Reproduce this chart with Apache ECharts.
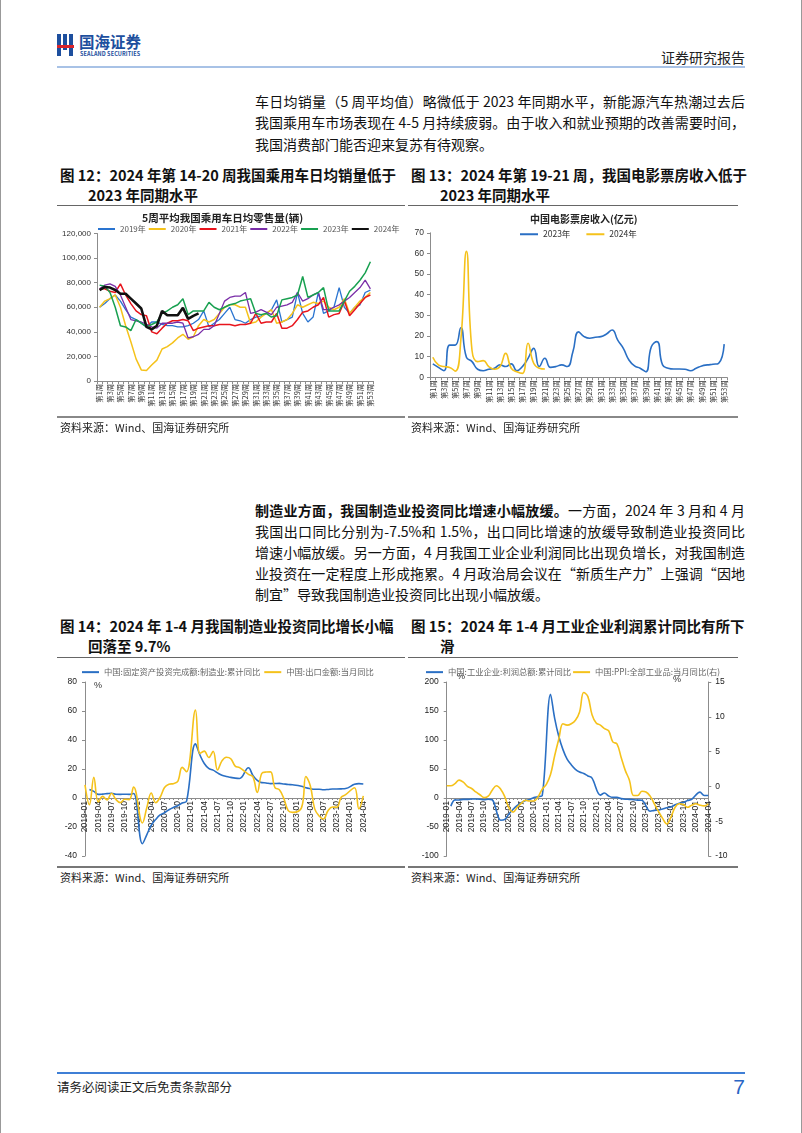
<!DOCTYPE html>
<html><head><meta charset="utf-8">
<script src="https://cdn.jsdelivr.net/npm/echarts@6/dist/echarts.min.js"></script>
<style>
html,body{margin:0;padding:0}
body{width:802px;height:1133px;position:relative;background:#fff;font-family:"Noto Sans CJK SC","Liberation Sans",sans-serif;overflow:hidden;color:#111}
.a{position:absolute;white-space:nowrap}
.p{position:absolute;left:255px;width:490px;font-size:14px;line-height:20px;white-space:nowrap}
.j{text-align:justify;text-align-last:justify;white-space:normal}
.t{position:absolute;font-size:14.5px;font-weight:bold;line-height:20px;white-space:nowrap;font-family:"Noto Sans CJK SC","Liberation Sans",sans-serif}
.src{position:absolute;font-size:11px;line-height:14px;color:#222}
.hl{position:absolute;height:0}
.ch{position:absolute}
</style></head>
<body>
<div class="a" style="left:0;top:0;width:1px;height:1133px;background:#999"></div>
<div class="a" style="left:801px;top:0;width:1px;height:1133px;background:#999"></div>

<!-- logo -->
<div class="a" style="left:57px;top:34px;width:4px;height:22px;background:#1d4f9e"></div>
<div class="a" style="left:63px;top:34px;width:4px;height:16px;background:#1d4f9e"></div>
<div class="a" style="left:69px;top:34px;width:4px;height:22px;background:#1d4f9e"></div>
<div class="a" style="left:57px;top:45px;width:17px;height:3px;background:#d8242b"></div>
<div class="a" style="left:79px;top:32px;font-size:15.5px;font-weight:bold;color:#1d4f9e;line-height:18px">国海证券</div>
<div class="a" style="left:80px;top:51px;font-size:5.5px;font-weight:bold;color:#1d4f9e;line-height:7px;letter-spacing:0.1px">SEALAND SECURITIES</div>
<div class="a" style="left:650px;top:48px;width:95px;text-align:right;font-size:14px;line-height:18px;color:#222">证券研究报告</div>
<div class="hl" style="left:57px;top:66px;width:688px;border-top:2px solid #a8c2e6"></div>

<!-- paragraph 1 -->
<div class="p j" style="top:91px">车日均销量（5 周平均值）略微低于 2023 年同期水平，新能源汽车热潮过去后</div>
<div class="p j" style="top:112px">我国乘用车市场表现在 4-5 月持续疲弱。由于收入和就业预期的改善需要时间，</div>
<div class="p" style="top:134px">我国消费部门能否迎来复苏有待观察。</div>

<!-- fig 12/13 titles -->
<div class="t" style="left:60px;top:165px">图 12：2024 年第 14-20 周我国乘用车日均销量低于</div>
<div class="t" style="left:88px;top:185px">2023 年同期水平</div>
<div class="t" style="left:411px;top:165px">图 13：2024 年第 19-21 周，我国电影票房收入低于</div>
<div class="t" style="left:440px;top:185px">2023 年同期水平</div>
<div class="hl" style="left:57px;top:205px;width:348px;border-top:1.5px solid #666"></div>
<div class="hl" style="left:408px;top:205px;width:330px;border-top:1.5px solid #666"></div>

<div id="c12" class="ch" style="left:57px;top:207px;width:348px;height:210px"></div>
<div id="c13" class="ch" style="left:405px;top:207px;width:332px;height:210px"></div>

<div class="hl" style="left:57px;top:416px;width:348px;border-top:2px solid #888"></div>
<div class="hl" style="left:408px;top:416px;width:330px;border-top:2px solid #888"></div>
<div class="src" style="left:60px;top:420px">资料来源：Wind、国海证券研究所</div>
<div class="src" style="left:411px;top:420px">资料来源：Wind、国海证券研究所</div>

<!-- paragraph 2 -->
<div class="p j" style="top:500px"><b>制造业方面，我国制造业投资同比增速小幅放缓。</b>一方面，2024 年 3 月和 4 月</div>
<div class="p j" style="top:521px">我国出口同比分别为-7.5%和 1.5%，出口同比增速的放缓导致制造业投资同比</div>
<div class="p j" style="top:542px">增速小幅放缓。另一方面，4 月我国工业企业利润同比出现负增长，对我国制造</div>
<div class="p j" style="top:563px">业投资在一定程度上形成拖累。4 月政治局会议在“新质生产力”上强调“因地</div>
<div class="p" style="top:584px">制宜”导致我国制造业投资同比出现小幅放缓。</div>

<!-- fig 14/15 titles -->
<div class="t" style="left:60px;top:616px">图 14：2024 年 1-4 月我国制造业投资同比增长小幅</div>
<div class="t" style="left:88px;top:636px">回落至 9.7%</div>
<div class="t" style="left:411px;top:616px">图 15：2024 年 1-4 月工业企业利润累计同比有所下</div>
<div class="t" style="left:440px;top:636px">滑</div>
<div class="hl" style="left:57px;top:657px;width:348px;border-top:1.5px solid #666"></div>
<div class="hl" style="left:408px;top:657px;width:330px;border-top:1.5px solid #666"></div>

<div id="c14" class="ch" style="left:57px;top:659px;width:348px;height:207px"></div>
<div id="c15" class="ch" style="left:405px;top:659px;width:332px;height:207px"></div>

<div class="hl" style="left:57px;top:866px;width:348px;border-top:2px solid #777"></div>
<div class="hl" style="left:408px;top:866px;width:330px;border-top:2px solid #777"></div>
<div class="src" style="left:60px;top:870px">资料来源：Wind、国海证券研究所</div>
<div class="src" style="left:411px;top:870px">资料来源：Wind、国海证券研究所</div>

<!-- footer -->
<div class="hl" style="left:57px;top:1072px;width:688px;border-top:2px solid #3f7fd6"></div>
<div class="a" style="left:57px;top:1079px;font-size:12.5px;line-height:16px;color:#222">请务必阅读正文后免责条款部分</div>
<div class="a" style="left:700px;top:1075px;width:45px;text-align:right;font-size:21px;line-height:24px;color:#2a66c5;font-family:'Liberation Sans',sans-serif">7</div>

<script>
// ---------- data ----------
const weekLabels = [];
for (let i = 1; i <= 53; i++) weekLabels.push('第' + i + '周');

const sales2019 = [60000,63000,67000,70000,65000,58000,52000,50000,47000,44000,48000,48000,46000,45000,45000,44000,44000,45000,47000,50000,57000,44000,47000,50000,55000,60000,50000,49000,47000,50000,52000,53000,55000,58000,66000,48000,50000,52000,72000,55000,48000,52000,72000,55000,57000,60000,76000,60000,55000,60000,62000,72000,74000];
const sales2020 = [60000,65000,67000,70000,60000,45000,32000,18000,9000,8500,13000,17000,26000,28000,31000,35000,38000,34000,36000,45000,50000,48000,50000,55000,60000,62000,62000,60000,60000,47000,48000,52000,55000,58000,47000,48000,50000,55000,62000,60000,62000,64000,63000,65000,60000,58000,60000,67000,55000,60000,65000,68000,72000];
const sales2021 = [75000,75000,73000,72000,79000,70000,63000,57000,54000,53000,40000,38500,43000,47000,49000,49000,50000,49000,41000,43000,44000,45000,45000,46000,46000,46000,45000,46000,46000,47000,55000,47000,48000,48000,55000,43000,43000,45000,50000,56000,57000,60000,62000,68000,52000,54000,55000,65000,53000,58000,63000,68000,70000];
const sales2022 = [75000,78000,79000,77000,70000,60000,50000,49000,48000,46000,44000,43000,47000,47000,47000,48000,47000,35000,36000,38000,42000,42000,45000,55000,65000,68000,69000,69000,72000,55000,56000,58000,56000,54000,60000,61000,62000,64000,72000,65000,67000,70000,72000,58000,58000,60000,62000,65000,68000,72000,76000,82000,75000];
const sales2023 = [78000,77000,72000,60000,45000,44000,41000,50000,47000,44000,46000,48000,55000,57000,60000,62000,67000,54000,57000,57000,57000,64000,60000,58000,60000,62000,63000,65000,66000,67000,55000,54000,55000,52000,53000,66000,67000,68000,70000,85000,68000,70000,72000,76000,57000,57000,57000,65000,73000,77000,82000,88000,97000];
const sales2024 = [74000,76500,76000,74000,71000,71000,67000,63000,59000,44000,42000,45000,57000,53500,53500,53500,59500,50500,53000,55000];

const box2023 = [6.5,4.8,3.2,15.6,15.6,24,9.7,7.6,3.9,3.2,3.9,4.4,6,5.2,6.5,3.2,5.2,9.2,14,5.2,9.2,4.8,5.2,6,5.2,12.4,22,19.7,18.9,19.4,19.7,21,22.9,18,14,8.4,5.5,4.4,2.7,14.8,17.3,6,4.4,4,4,3.9,3.2,4.4,5.5,6,6.3,6.8,16.1];
const box2024 = [9.7,6,5.2,4.8,3,18,61,13,7.6,8.1,5.2,3.9,5.2,11.6,4.4,2.7,1.9,16.5,6.8,4.4,4];

const monthLabels = [];
for (let y = 2019; y <= 2024; y++) for (let m = 1; m <= 12; m++) {
  if (y === 2024 && m > 4) break;
  monthLabels.push(y + '-' + (m < 10 ? '0' + m : m));
}
const mfgFai = [null,5.9,4.6,2.5,2.7,3.0,3.3,2.6,2.5,2.6,2.5,3.1,
 null,-31.5,-25.2,-18.8,-14.8,-11.7,-10.2,-8.1,-6.5,-5.3,-3.5,-2.2,
 null,37.3,29.8,23.8,20.4,19.2,17.3,15.7,14.8,14.2,13.7,13.5,
 null,20.9,15.6,12.2,10.6,10.4,9.9,10.0,10.1,9.7,9.3,9.1,
 null,8.1,7.0,6.4,6.0,6.0,5.7,5.9,6.2,6.2,6.3,6.5,
 null,9.4,9.9,9.7];
const exportYoy = [9.1,-4.6,14.2,-2.7,1.1,-1.3,3.3,-1.0,-3.2,-0.9,-1.1,7.6,
 null,-17.2,-6.6,3.5,-3.3,0.5,7.2,9.5,9.9,11.4,21.1,18.1,
 null,60.6,30.6,32.3,27.9,32.2,19.3,25.6,28.1,27.1,22.0,20.9,
 null,16.3,14.7,3.9,16.9,17.9,18.0,7.1,5.7,-0.3,-8.7,-9.9,
 null,-6.8,14.8,8.5,-7.5,-12.4,-14.5,-8.8,-6.2,-6.4,0.5,2.3,
 null,7.1,-7.5,1.5];
const profitYoy = [null,-14.0,-3.3,-3.4,-2.3,-2.4,-1.7,-1.7,-2.1,-2.9,-2.1,-3.3,
 null,-38.3,-36.7,-27.4,-19.3,-12.8,-8.1,-4.4,-2.4,0.7,2.4,4.1,
 null,178.9,137.3,106.0,83.4,66.9,57.3,49.5,44.7,42.2,38.0,34.3,
 null,5.0,8.5,3.5,1.0,1.0,-1.1,-2.1,-2.3,-3.0,-3.6,-4.0,
 null,-22.9,-21.4,-20.6,-18.8,-16.8,-15.5,-11.7,-9.0,-7.8,-4.4,-2.3,
 null,10.2,4.3,4.3];
const ppiYoy = [0.1,0.1,0.4,0.9,0.6,0.0,-0.3,-0.8,-1.2,-1.6,-1.4,-0.5,
 0.1,-0.4,-1.5,-3.1,-3.7,-3.0,-2.4,-2.0,-2.1,-2.1,-1.5,-0.4,
 0.3,1.7,4.4,6.8,9.0,8.8,9.0,9.5,10.7,13.5,12.9,10.3,
 9.1,8.8,8.3,8.0,6.4,6.1,4.2,2.3,0.9,-1.3,-1.3,-0.7,
 -0.8,-1.4,-2.5,-3.6,-4.6,-5.4,-4.4,-3.0,-2.5,-2.6,-3.0,-2.7,
 -2.5,-2.7,-2.8,-2.5];

// ---------- styles ----------
const NUMF = "'Liberation Sans','Noto Sans CJK SC',sans-serif";
const CJKF = "'Noto Sans CJK SC','Liberation Sans',sans-serif";
const C_BLUE = '#2a74d0', C_YEL = '#f5c21b', C_RED = '#e8141c', C_PUR = '#7a2ea8', C_GRN = '#18a050', C_BLK = '#111';
const axLine = {show:true, lineStyle:{color:'#8c8c8c', width:1}};
const axTick = {show:true, inside:false, length:3, lineStyle:{color:'#8c8c8c'}};

function line(name, data, color, w, smooth, extra) {
  return Object.assign({name, type:'line', data, symbol:'none', showSymbol:false, smooth: smooth || false,
    connectNulls:true, lineStyle:{color, width:w}, itemStyle:{color}, emphasis:{disabled:true}}, extra || {});
}
function grid(l, r, t, b) {
  return {left:l, right:r, top:t, bottom:b, containLabel:false, outerBoundsMode:'none'};
}
// plot height 174px; zero line sits 58px above the grid bottom for both lower charts
const ZERO_OFFSET = -58;

// chart 12
echarts.init(document.getElementById('c12')).setOption({
  animation:false,
  title:{text:'5周平均我国乘用车日均零售量(辆)', left:80, top:1, textStyle:{fontSize:10.5, fontWeight:'bold', fontFamily:CJKF, color:'#222'}},
  legend:{top:13, left:36, itemWidth:17, itemHeight:2, itemGap:3, icon:'rect',
    textStyle:{fontSize:8, color:'#555', fontFamily:CJKF},
    data:['2019年','2020年','2021年','2022年','2023年','2024年']},
  grid:grid(40, 32, 26.5, 36),
  xAxis:{type:'category', data:weekLabels, boundaryGap:true, axisLine:axLine,
    axisTick:{show:true, interval:0, length:3, lineStyle:{color:'#8c8c8c'}},
    axisLabel:{rotate:90, interval:1, fontSize:7.3, color:'#333', margin:3, fontFamily:CJKF}},
  yAxis:{type:'value', min:0, max:120000, interval:20000, axisLine:axLine, axisTick:axTick, splitLine:{show:false},
    axisLabel:{fontSize:8, color:'#333', margin:6, fontFamily:NUMF}},
  series:[
    line('2019年', sales2019, C_BLUE, 1.3),
    line('2020年', sales2020, C_YEL, 1.5),
    line('2021年', sales2021, C_RED, 1.5),
    line('2022年', sales2022, C_PUR, 1.3),
    line('2023年', sales2023, C_GRN, 1.5),
    line('2024年', sales2024, C_BLK, 2.6)
  ]
});

// chart 13
echarts.init(document.getElementById('c13')).setOption({
  animation:false,
  title:{text:'中国电影票房收入(亿元)', left:120, top:2, textStyle:{fontSize:10, fontWeight:'bold', fontFamily:CJKF, color:'#222'}},
  legend:{top:18, left:110, itemWidth:18, itemHeight:2, itemGap:16, icon:'rect',
    textStyle:{fontSize:8.5, color:'#333', fontFamily:CJKF},
    data:['2023年','2024年']},
  grid:grid(25, 10, 25.8, 39.7),
  xAxis:{type:'category', data:weekLabels, boundaryGap:true, axisLine:axLine,
    axisTick:{show:true, interval:0, length:3, lineStyle:{color:'#8c8c8c'}},
    axisLabel:{rotate:90, interval:1, fontSize:7.3, color:'#333', margin:3, fontFamily:CJKF}},
  yAxis:{type:'value', min:0, max:70, interval:10, axisLine:axLine, axisTick:axTick, splitLine:{show:false},
    axisLabel:{fontSize:8.5, color:'#333', margin:6, fontFamily:NUMF}},
  series:[
    line('2023年', box2023, '#2a6fc4', 1.6, 0.5),
    line('2024年', box2024, C_YEL, 1.6, 0.5)
  ]
});

// chart 14
echarts.init(document.getElementById('c14')).setOption({
  animation:false,
  legend:{top:4, left:20, itemWidth:17, itemHeight:2, itemGap:4, icon:'rect',
    textStyle:{fontSize:8.3, color:'#666', fontFamily:CJKF},
    data:['中国:固定资产投资完成额:制造业:累计同比','中国:出口金额:当月同比']},
  grid:grid(28, 41.7, 23, 10),
  graphic:[{type:'text', left:37, top:22, style:{text:'%', fontSize:9, fill:'#333', fontFamily:NUMF}}],
  xAxis:{type:'category', data:monthLabels, boundaryGap:false, offset:ZERO_OFFSET,
    axisLine:{show:true, onZero:false, lineStyle:{color:'#8c8c8c'}},
    axisTick:{show:true, interval:0, length:2, lineStyle:{color:'#8c8c8c'}},
    axisLabel:{rotate:90, interval:2, fontSize:8.5, color:'#222', margin:3, fontFamily:NUMF}},
  yAxis:{type:'value', min:-40, max:80, interval:20, axisLine:axLine, axisTick:axTick, splitLine:{show:false},
    axisLabel:{fontSize:8.5, color:'#222', margin:8, fontFamily:NUMF}},
  series:[
    line('中国:固定资产投资完成额:制造业:累计同比', mfgFai, '#2a6fc4', 1.6, 0.4),
    line('中国:出口金额:当月同比', exportYoy, C_YEL, 1.6, 0.4)
  ]
});

// chart 15
echarts.init(document.getElementById('c15')).setOption({
  animation:false,
  legend:{top:4, left:16, itemWidth:17, itemHeight:2, itemGap:2, icon:'rect',
    textStyle:{fontSize:8.3, color:'#666', fontFamily:CJKF},
    data:['中国:工业企业:利润总额:累计同比','中国:PPI:全部工业品:当月同比(右)']},
  grid:grid(41.7, 28.7, 23, 10),
  graphic:[
    {type:'text', left:52, top:13, style:{text:'%', fontSize:9, fill:'#333', fontFamily:NUMF}},
    {type:'text', left:268, top:16, style:{text:'%', fontSize:9, fill:'#333', fontFamily:NUMF}}
  ],
  xAxis:{type:'category', data:monthLabels, boundaryGap:false, offset:ZERO_OFFSET,
    axisLine:{show:true, onZero:false, lineStyle:{color:'#8c8c8c'}},
    axisTick:{show:true, interval:0, length:2, lineStyle:{color:'#8c8c8c'}},
    axisLabel:{rotate:90, interval:2, fontSize:8.5, color:'#222', margin:3, fontFamily:NUMF}},
  yAxis:[
    {type:'value', min:-100, max:200, interval:50, axisLine:axLine, axisTick:axTick, splitLine:{show:false},
      axisLabel:{fontSize:8.5, color:'#222', margin:8, fontFamily:NUMF}},
    {type:'value', min:-10, max:15, interval:5, position:'right', axisLine:axLine, axisTick:axTick, splitLine:{show:false},
      axisLabel:{fontSize:8.5, color:'#222', margin:7, fontFamily:NUMF}}
  ],
  series:[
    line('中国:工业企业:利润总额:累计同比', profitYoy, '#2a6fc4', 1.6, 0.35),
    line('中国:PPI:全部工业品:当月同比(右)', ppiYoy, C_YEL, 1.6, 0.4, {yAxisIndex:1})
  ]
});
</script>
</body></html>
